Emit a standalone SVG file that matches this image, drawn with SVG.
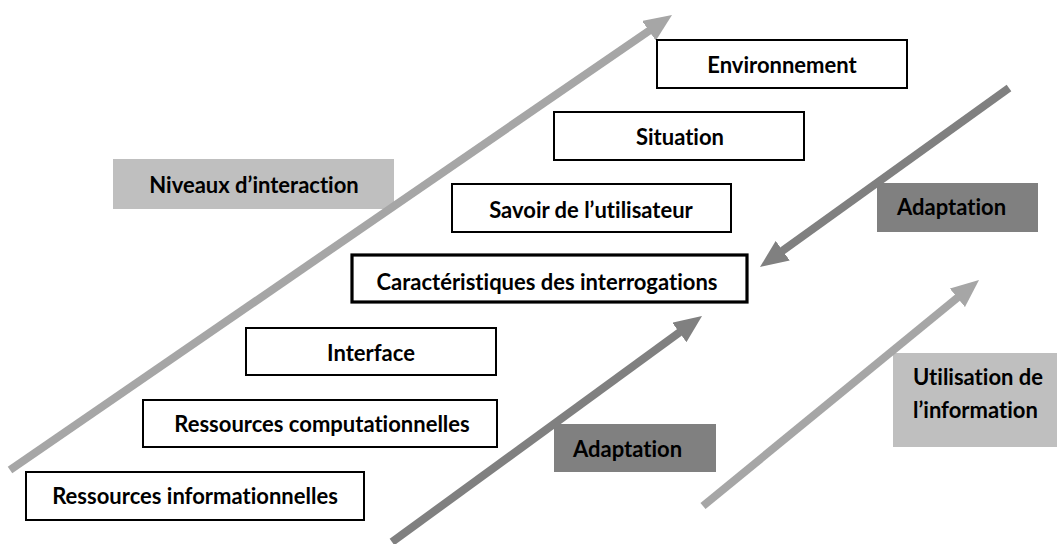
<svg xmlns="http://www.w3.org/2000/svg" width="1057" height="544" viewBox="0 0 1057 544">
<style>
.box{fill:#fff;stroke:#000;stroke-width:2}
.boxb{fill:#fff;stroke:#000;stroke-width:3.2}
.lg{fill:#bfbfbf}
.dg{fill:#808080}
text{font-family:Lato,"Open Sans","Liberation Sans",sans-serif;font-weight:bold;font-size:22px;fill:#000;font-variant-ligatures:none}
.c{text-anchor:middle}
.al{stroke:#a6a6a6;stroke-width:8;fill:none}
.ad{stroke:#808080;stroke-width:8;fill:none}
</style>
<defs>
<marker id="hl" viewBox="0 0 28 24" refX="2" refY="12" markerWidth="28" markerHeight="24" markerUnits="userSpaceOnUse" orient="auto"><path d="M0,0 L28,12 L0,24 z" fill="#a6a6a6"/></marker>
<marker id="hd" viewBox="0 0 28 24" refX="2" refY="12" markerWidth="28" markerHeight="24" markerUnits="userSpaceOnUse" orient="auto"><path d="M0,0 L28,12 L0,24 z" fill="#808080"/></marker>
</defs>
<g id="lbl-niveaux"><rect class="lg" x="113" y="159" width="281" height="50"/><text class="c" x="254" y="193">Niveaux d’interaction</text></g>
<g id="lbl-utilisation"><rect class="lg" x="893" y="353" width="164" height="94"/><text x="913" y="385">Utilisation de</text><text x="913" y="418">l’information</text></g>
<g id="lbl-adapt1"><rect class="dg" x="877" y="183" width="161" height="49"/><text x="897" y="215">Adaptation</text></g>
<g id="lbl-adapt2"><rect class="dg" x="554" y="424" width="162" height="48"/><text x="573" y="457">Adaptation</text></g>
<g id="connectors">
<line class="al" x1="10" y1="470" x2="650.6" y2="29.7" marker-end="url(#hl)"/>
<line class="ad" x1="1009" y1="88" x2="781.1" y2="251.8" marker-end="url(#hd)"/>
<line class="ad" x1="392" y1="542" x2="681" y2="331.3" marker-end="url(#hd)"/>
<line class="al" x1="703" y1="506" x2="958.9" y2="296.5" marker-end="url(#hl)"/>
</g>
<g id="n-env"><rect class="box" x="657" y="40" width="250" height="48"/><text class="c" x="782" y="73">Environnement</text></g>
<g id="n-sit"><rect class="box" x="554" y="112" width="250" height="48"/><text class="c" x="680" y="145">Situation</text></g>
<g id="n-savoir"><rect class="box" x="452" y="184" width="279" height="48"/><text class="c" x="591" y="218">Savoir de l’utilisateur</text></g>
<g id="n-carac"><rect class="boxb" x="352" y="255" width="395" height="47"/><text class="c" x="547" y="290">Caractéristiques des interrogations</text></g>
<g id="n-interface"><rect class="box" x="246" y="328" width="250" height="47"/><text class="c" x="371" y="361">Interface</text></g>
<g id="n-rescomp"><rect class="box" x="143" y="400" width="354" height="47"/><text class="c" x="322" y="432">Ressources computationnelles</text></g>
<g id="n-resinfo"><rect class="box" x="26" y="472" width="338" height="48"/><text class="c" x="195" y="504">Ressources informationnelles</text></g>
</svg>
